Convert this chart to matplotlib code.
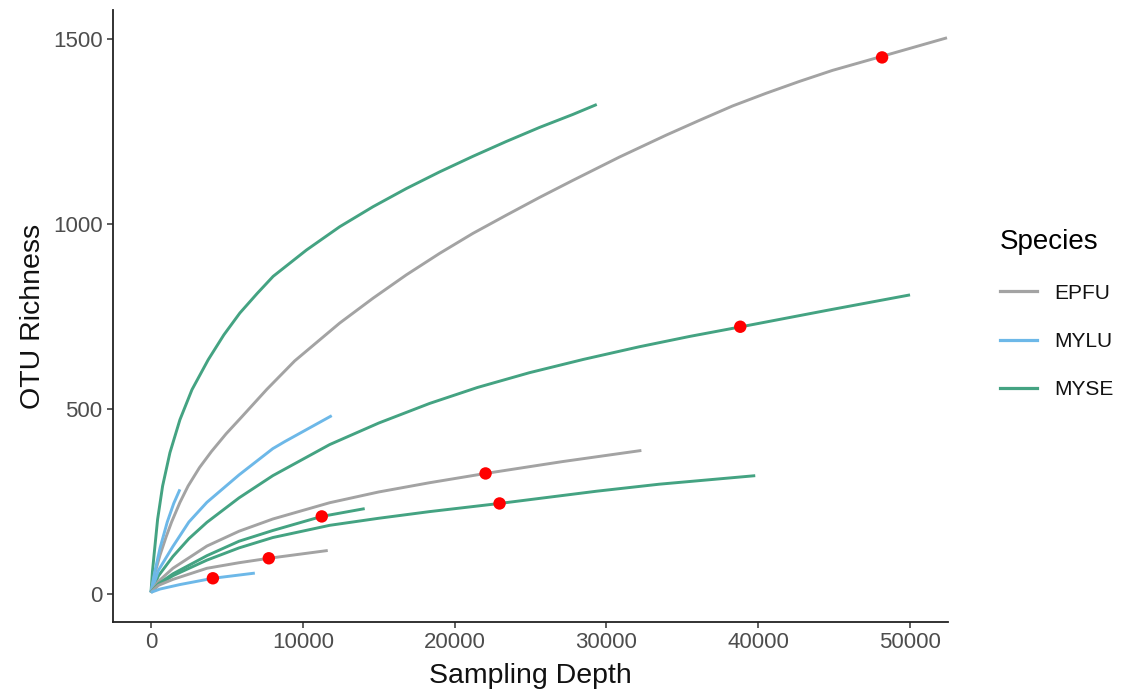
import matplotlib
matplotlib.use("Agg")
import matplotlib.pyplot as plt
from matplotlib.lines import Line2D

plt.rcParams['font.family'] = ['Liberation Sans', 'DejaVu Sans']

# ---- data ----
species = ["EPFU", "MYLU", "MYSE"]
colors = {"EPFU": "#A3A3A3", "MYLU": "#6DB8E8", "MYSE": "#44A382"}

curve_species = ["MYSE", "EPFU", "MYSE", "MYLU", "MYLU", "EPFU", "MYSE", "MYSE", "EPFU", "MYLU"]

c1_x = [0, 100, 219, 438, 767, 1250, 1908, 2700, 3772, 4800, 5855, 7000, 8048, 10241, 12434,
        14627, 16820, 19013, 21206, 23399, 25592, 27785, 29364]
c1_y = [5, 62, 112, 202, 292, 382, 471, 552, 633, 700, 759, 812, 858, 929, 992,
        1046, 1095, 1140, 1182, 1222, 1260, 1295, 1322]

c2_x = [0, 250, 592, 1000, 1360, 1900, 2445, 3200, 3980, 4950, 5965, 7632, 9474, 12434, 14627,
        16820, 19013, 21206, 23399, 25592, 27785, 30855, 33924, 36118, 38311, 40503, 42697,
        44890, 48158, 52434]
c2_y = [5, 55, 105, 155, 195, 247, 292, 342, 385, 433, 478, 553, 630, 732, 799,
        862, 920, 974, 1023, 1071, 1117, 1180, 1239, 1279, 1318, 1352, 1384,
        1414, 1452, 1502]

c3_x = [0, 500, 1447, 2500, 3684, 5800, 8026, 11776, 15000, 18355, 21500, 24934, 28500,
        32171, 35500, 38882, 44500, 50000]
c3_y = [5, 50, 102, 150, 194, 260, 320, 404, 462, 515, 558, 598, 634,
        668, 696, 722, 766, 808]

c4_x = [0, 500, 1447, 2500, 3684, 5800, 8026, 8816, 11908]
c4_y = [5, 65, 129, 195, 248, 322, 393, 412, 482]

c5_x = [0, 250, 600, 1075, 1500, 1908]
c5_y = [5, 60, 125, 195, 245, 283]

c6_x = [0, 500, 1447, 3684, 5800, 8026, 11776, 15000, 18355, 22040, 27105, 32303]
c6_y = [5, 35, 70, 130, 170, 203, 247, 276, 301, 326, 358, 388]

c7_x = [0, 500, 1447, 3684, 5800, 8026, 11776, 15000, 18355, 22961, 29342, 33487, 39803]
c7_y = [5, 26, 50, 92, 125, 153, 186, 205, 223, 245, 278, 297, 320]

c8_x = [0, 500, 1447, 3684, 5800, 8026, 11250, 14079]
c8_y = [5, 28, 55, 104, 143, 172, 210, 231]

c9_x = [0, 500, 1447, 3684, 5800, 7763, 11645]
c9_y = [5, 24, 40, 70, 85, 97, 118]

c10_x = [0, 600, 1900, 4079, 6842]
c10_y = [5, 14, 26, 43, 57]

curves_x = [c1_x, c2_x, c3_x, c4_x, c5_x, c6_x, c7_x, c8_x, c9_x, c10_x]
curves_y = [c1_y, c2_y, c3_y, c4_y, c5_y, c6_y, c7_y, c8_y, c9_y, c10_y]

# red sample-depth points
pt_x = [48158, 38816, 22040, 22961, 11250, 7763, 4079]
pt_y = [1449, 722, 326, 245, 210, 97, 43]

x_ticks = [0, 10000, 20000, 30000, 40000, 50000]
y_ticks = [0, 500, 1000, 1500]

# ---- figure ----
fig = plt.figure(figsize=(11.29, 6.98), dpi=100)
ax = fig.add_axes([113 / 1129, 76 / 698, (948 - 113) / 1129, (622 - 10) / 698])

for sp, xs, ys in zip(curve_species, curves_x, curves_y):
    ax.plot(xs, ys, color=colors[sp], lw=2.1, solid_capstyle='butt',
            solid_joinstyle='round', zorder=2)

ax.scatter(pt_x, pt_y, s=80, color="#FF0000", edgecolors='none', zorder=3)

ax.set_xlim(-2500, 52500)
ax.set_ylim(-75, 1577)
ax.set_xticks(x_ticks)
ax.set_xticklabels([str(v) for v in x_ticks])
ax.set_yticks(y_ticks)
ax.set_yticklabels([str(v) for v in y_ticks])

for s in ["top", "right"]:
    ax.spines[s].set_visible(False)
for s in ["left", "bottom"]:
    ax.spines[s].set_linewidth(1.3)
    ax.spines[s].set_color("#222222")
ax.tick_params(axis='both', direction='out', length=4.5, width=1.1, color="#333333",
               labelsize=16, labelcolor="#4D4D4D", pad=3)

ax.set_xlabel("Sampling Depth", fontsize=20.5, color="#111111", labelpad=7)
ax.set_ylabel("OTU Richness", fontsize=20.5, color="#111111", labelpad=5)

handles = [Line2D([0], [0], color=colors[sp], lw=2.3) for sp in species]
leg = fig.legend(handles, species, title="Species", loc='upper left',
                 bbox_to_anchor=(985 / 1129, 1 - 214 / 698), frameon=False,
                 fontsize=15, title_fontsize=20, handlelength=1.8,
                 handletextpad=0.8, labelspacing=1.40, borderpad=0.2)
leg._legend_box.align = "left"
for t in leg.get_texts():
    t.set_color("#111111")

fig.savefig("out.png", dpi=100)
